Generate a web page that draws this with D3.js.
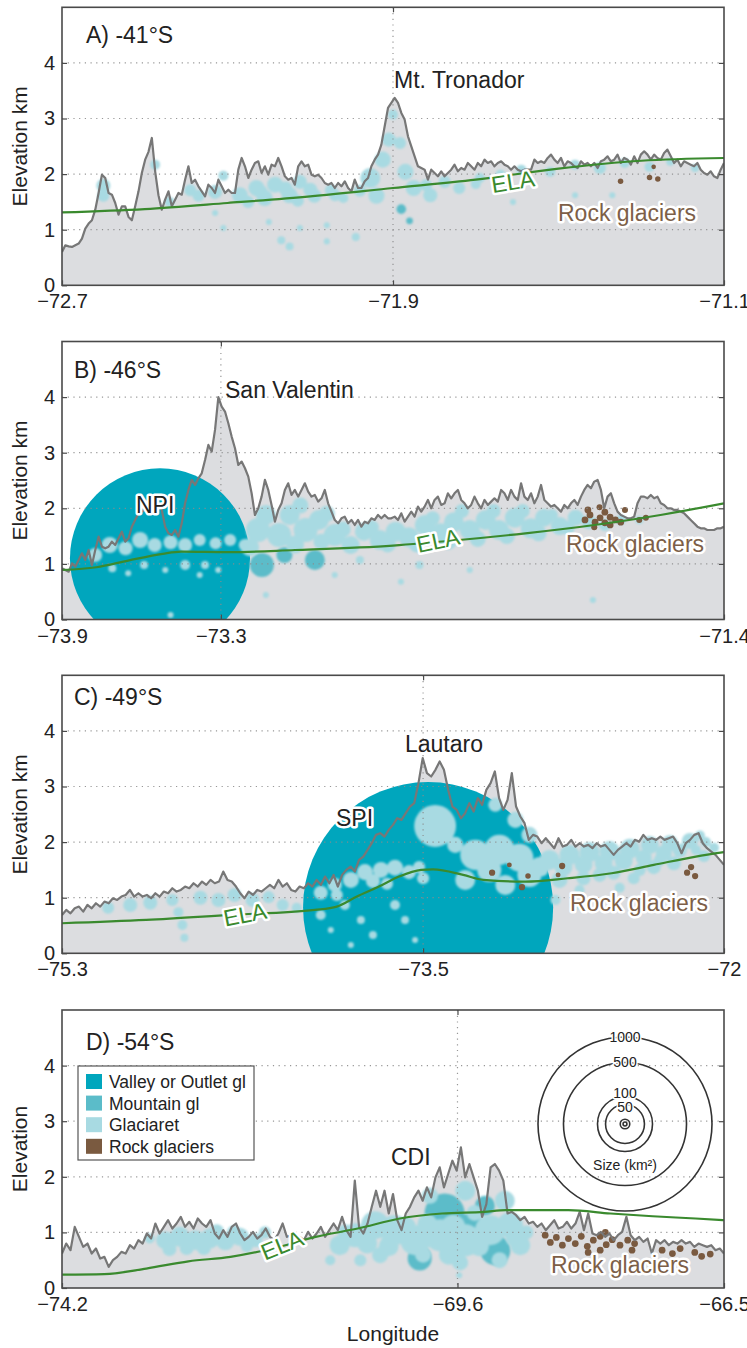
<!DOCTYPE html>
<html><head><meta charset="utf-8">
<script src="https://cdn.jsdelivr.net/npm/d3@7"></script>
<style>
body{margin:0;background:#fff;}
svg text{font-family:"Liberation Sans",Arial,Helvetica,sans-serif;}
</style></head><body>
<svg id="chart" width="747" height="1348"></svg>
<script>
// ---------------- data ----------------
// Topographic transects: elevation (km) sampled at a fixed longitude step across each range
const lonRangeA = [-72.7, -71.1];
const lonRangeB = [-73.9, -71.4];
const lonRangeC = [-75.3, -72.0];
const lonRangeD = [-74.2, -66.5];

const xTicksA = [-72.7, -71.9, -71.1], xLabelsA = ["\u221272.7", "\u221271.9", "\u221271.1"];
const xTicksB = [-73.9, -73.3, -71.4], xLabelsB = ["\u221273.9", "\u221273.3", "\u221271.4"];
const xTicksC = [-75.3, -73.5, -72.0], xLabelsC = ["\u221275.3", "\u221273.5", "\u221272"];
const xTicksD = [-74.2, -69.6, -66.5], xLabelsD = ["\u221274.2", "\u221269.6", "\u221266.5"];
const yTicks = [0, 1, 2, 3, 4];

const profileA = [
0.60,0.72,0.70,0.69,0.72,0.75,0.84,1.02,1.11,1.17,1.36,1.66,1.99,1.93,1.66,1.63,1.48,1.27,1.42,1.42,
1.23,1.17,1.42,1.69,2.02,2.26,2.40,2.65,2.05,1.62,1.36,1.54,1.69,1.42,1.54,1.66,1.63,1.90,2.14,1.84,
1.90,1.78,1.69,1.60,1.81,1.75,1.66,1.90,1.78,1.66,1.72,1.66,1.66,2.08,2.29,2.14,1.93,2.08,2.20,2.23,
2.02,2.14,1.99,2.17,2.14,2.29,2.14,1.96,1.90,1.93,1.81,2.14,2.23,2.14,2.17,1.99,1.96,1.99,1.93,1.84,
1.81,1.84,1.75,1.84,1.78,1.87,1.75,1.69,1.90,1.75,1.75,1.87,1.93,2.14,2.26,2.35,2.53,2.86,3.19,3.28,
3.37,3.28,3.10,2.98,2.68,2.50,2.32,2.14,2.11,2.08,1.90,2.08,2.02,1.96,2.05,1.96,2.02,2.08,2.17,2.05,
2.11,2.08,2.20,2.14,2.08,2.20,2.14,2.26,2.20,2.23,2.14,2.20,2.23,2.17,2.14,2.08,2.14,2.08,2.05,2.08,
2.08,2.08,2.26,2.20,2.23,2.20,2.29,2.35,2.26,2.20,2.29,2.14,2.23,2.20,2.14,2.11,2.23,2.17,2.20,2.14,
2.20,2.11,2.23,2.26,2.32,2.23,2.26,2.35,2.20,2.29,2.26,2.17,2.32,2.20,2.35,2.41,2.35,2.26,2.35,2.29,
2.26,2.38,2.44,2.32,2.20,2.26,2.14,2.23,2.20,2.17,2.14,2.20,2.08,2.02,1.99,2.05,1.96,1.93,2.08,2.20];

const profileB = [
0.92,0.89,0.86,1.01,0.95,1.07,1.19,1.07,1.25,0.98,1.25,1.49,1.31,1.28,1.31,1.40,1.34,1.46,1.58,1.40,
1.46,1.67,1.79,1.91,1.94,1.97,2.00,2.09,2.09,2.06,1.97,1.67,1.55,1.52,1.61,1.49,1.73,2.09,2.33,2.51,
2.42,2.54,2.63,2.87,3.14,3.02,3.41,4.00,3.83,3.74,3.53,3.29,3.08,2.78,2.84,2.72,2.57,2.27,1.88,2.00,
2.21,2.51,2.33,2.06,1.76,1.97,2.09,2.33,2.45,2.24,2.33,2.21,2.33,2.45,2.30,2.21,2.24,2.12,2.18,2.33,
2.09,1.94,1.79,1.73,1.82,1.85,1.73,1.79,1.70,1.79,1.67,1.76,1.73,1.82,1.79,1.88,1.82,1.88,1.82,1.82,
1.85,1.79,1.91,1.76,1.85,1.94,1.85,2.03,1.94,2.03,2.15,2.00,2.15,2.21,2.06,2.09,2.27,2.18,2.27,2.33,
2.15,2.09,2.00,2.06,2.21,2.09,2.00,2.15,2.06,2.12,2.18,2.12,2.33,2.27,2.15,2.33,2.21,2.15,2.45,2.21,
2.15,2.27,2.09,2.21,2.42,2.15,2.09,2.03,2.06,2.00,1.94,2.06,2.00,2.09,2.15,2.06,2.21,2.33,2.42,2.36,
2.48,2.51,2.33,2.00,2.21,2.27,2.09,1.94,1.88,1.85,1.82,1.82,1.85,2.09,2.21,2.21,2.18,2.24,2.18,2.21,
2.09,2.06,2.00,2.00,1.97,1.97,1.94,1.91,1.85,1.79,1.73,1.67,1.64,1.64,1.61,1.61,1.61,1.64,1.64,1.67];

const profileC = [
0.69,0.78,0.72,0.81,0.84,0.75,0.87,0.81,0.90,0.84,0.93,0.90,0.99,0.96,1.02,1.05,1.14,1.02,1.08,1.02,
1.05,0.99,1.08,1.02,1.11,1.08,1.17,1.11,1.14,1.20,1.17,1.26,1.20,1.29,1.23,1.32,1.26,1.29,1.47,1.32,
1.29,1.20,1.08,0.99,1.11,1.05,1.14,1.11,1.17,1.23,1.17,1.32,1.20,1.26,1.14,1.11,1.20,1.17,1.26,1.20,
1.32,1.23,1.38,1.26,1.41,1.20,1.41,1.50,1.56,1.47,1.68,1.74,1.86,1.98,2.13,2.16,2.10,2.22,2.31,2.43,
2.40,2.52,2.64,2.70,3.06,3.51,3.24,3.18,3.30,3.45,3.30,2.94,2.64,2.58,2.43,2.52,2.70,2.55,2.79,2.67,
2.94,3.06,3.27,2.79,2.58,2.76,3.24,2.64,2.46,2.34,2.04,2.13,2.10,1.98,2.07,1.98,1.89,2.07,1.92,1.95,
2.04,1.92,1.98,1.92,1.95,1.89,1.98,1.92,1.95,1.86,1.77,1.86,1.92,1.98,1.92,2.04,2.01,2.13,2.04,2.07,
2.04,2.10,2.04,2.07,2.10,1.98,1.80,1.98,2.04,2.13,2.16,1.98,1.89,1.83,1.77,1.68,1.59];

const profileD = [
0.62,0.80,0.68,1.10,0.92,0.74,0.80,0.62,0.71,0.53,0.56,0.38,0.50,0.56,0.65,0.62,0.77,0.71,0.86,0.80,
0.98,0.89,1.16,0.98,1.10,1.22,1.07,1.16,1.28,1.10,1.19,1.07,1.25,1.16,1.10,1.22,0.98,0.89,1.04,0.92,
1.10,1.16,0.98,0.86,0.92,1.01,0.89,0.95,1.07,0.92,0.86,0.98,1.16,0.92,0.95,0.83,0.92,0.86,1.01,0.89,
0.98,1.10,0.92,1.04,1.16,1.04,1.28,1.04,0.92,1.93,1.10,0.98,1.16,1.46,1.75,1.46,1.75,1.34,1.69,1.22,
1.04,1.34,1.46,1.63,1.75,1.57,1.81,1.63,1.99,2.17,1.81,2.05,2.29,2.11,2.53,1.99,2.23,1.99,1.75,1.28,
1.51,2.17,2.23,2.11,1.93,1.34,1.37,1.31,1.22,1.28,1.16,1.19,1.10,1.16,1.04,1.13,1.22,1.07,1.10,1.19,
1.07,1.16,1.37,1.04,1.34,0.98,0.95,1.01,0.92,0.98,0.86,0.95,1.01,1.28,0.95,0.86,0.92,0.83,0.89,0.62,
0.86,0.80,0.86,0.77,0.83,0.80,0.86,0.80,0.83,0.74,0.80,0.77,0.74,0.77,0.68,0.71,0.62];

// Equilibrium-line altitude (km) along each transect
const elaLonA = [-72.7,-72.5,-72.3,-72.1,-71.9,-71.7,-71.5,-71.3,-71.1];
const elaA    = [1.31,1.37,1.48,1.60,1.75,1.90,2.10,2.24,2.29];
const elaLonB = [-73.9,-73.77,-73.65,-73.52,-73.45,-73.27,-73.02,-72.65,-72.4,-72.15,-71.89,-71.64,-71.4];
const elaB    = [0.89,0.94,1.06,1.18,1.22,1.21,1.25,1.33,1.43,1.55,1.70,1.88,2.09];
const elaLonC = [-75.3,-74.88,-74.46,-74.04,-73.93,-73.83,-73.72,-73.62,-73.51,-73.45,-73.30,-73.20,-72.99,-72.78,-72.56,-72.35,-72.14,-72.0];
const elaC    = [0.54,0.60,0.69,0.78,0.84,1.02,1.20,1.38,1.50,1.51,1.41,1.32,1.29,1.35,1.44,1.59,1.74,1.82];
const elaLonD = [-74.2,-73.71,-73.22,-72.73,-72.24,-71.75,-71.25,-70.76,-70.27,-69.78,-69.29,-69.04,-68.8,-68.31,-67.82,-67.33,-66.83,-66.5];
const elaD    = [0.24,0.25,0.35,0.48,0.56,0.71,0.92,1.07,1.25,1.34,1.37,1.40,1.40,1.40,1.34,1.29,1.25,1.22];

// Glaciers: [longitude, mean elevation (km), area (km²)]
const valleyA = [];
const mountainA = [[-71.88,1.37,3.0],[-71.86,1.16,1.5]];
const glaciaretA = [[-72.60,1.79,6.5],[-72.60,1.61,4.8],[-72.475,2.17,3.3],[-72.39,1.71,4.8],[-72.37,1.61,4.8],[-72.33,1.68,6.5],[-72.31,1.97,3.3],[-72.27,1.62,8.5],[-72.23,1.75,8.5],[-72.21,1.57,8.5],[-72.185,1.81,8.5],[-72.15,1.62,8.5],[-72.125,1.86,6.5],[-72.09,1.61,6.5],[-72.05,1.71,4.8],[-72.02,1.57,3.3],[-71.955,1.93,13.2],[-71.925,2.26,8.5],[-71.91,2.62,6.5],[-71.90,3.07,3.3],[-71.94,1.61,8.5],[-71.883,2.56,4.8],[-71.87,2.04,8.5],[-71.85,1.75,8.5],[-71.81,1.62,6.5],[-71.775,1.86,4.8],[-71.74,1.75,4.8],[-71.69,1.93,3.3],[-71.64,1.99,3.3],[-71.59,2.08,3.3],[-71.52,2.04,3.3],[-71.46,2.17,3.3],[-71.40,2.11,4.8],[-71.34,2.20,3.3],[-71.28,2.13,3.3],[-71.23,2.22,2.1],[-71.17,2.11,2.1],
[-72.22,1.68,6.5],[-72.16,1.74,6.5],[-72.10,1.72,6.5],[-72.04,1.62,4.8],[-71.98,1.70,4.8],[-72.25,1.50,4.8],[-72.13,1.52,4.8],[-71.82,1.80,4.8],[-71.70,1.82,3.3],[-72.44,1.50,3.3],
[-72.33,1.30,1.2],[-72.31,1.03,1.2],[-72.20,1.14,1.2],[-72.17,0.81,2.1],[-72.15,0.70,2.1],[-72.125,1.03,1.2],[-72.06,1.08,1.2],[-72.06,0.79,1.2],[-71.99,0.87,2.1],[-71.61,1.50,1.2],[-71.46,1.62,1.2],[-71.37,1.62,1.2]];
const rockA = [[-71.35,1.87,1.0],[-71.28,1.94,1.0],[-71.26,1.91,1.0],[-71.27,2.13,0.7]];

const valleyB = [[-73.53,1.10,1071]];
const mountainB = [[-73.145,0.98,19],[-72.945,1.07,13.2],[-73.06,1.16,8.5]];
const glaciaretB = [[-73.775,1.16,6.5],[-73.72,1.34,8.5],[-73.66,1.28,6.5],[-73.605,1.43,8.5],[-73.55,1.34,6.5],[-73.49,1.39,6.5],[-73.435,1.34,6.5],[-73.38,1.43,4.8],[-73.32,1.37,4.8],[-73.265,1.43,4.8],[-73.21,1.34,4.8],
[-73.71,0.92,2.1],[-73.65,0.83,1.2],[-73.59,0.98,2.1],[-73.51,0.89,1.2],[-73.435,0.98,3.3],[-73.38,0.80,1.2],[-73.36,0.98,2.1],[-73.31,0.89,1.2],[-73.49,0.08,1.2],
[-73.16,1.61,19],[-73.13,1.88,13.2],[-73.08,1.52,19],[-73.04,1.88,13.2],[-72.98,1.61,19],[-72.93,1.79,13.2],[-72.87,1.52,16],[-72.81,1.34,10.7],[-72.76,1.58,10.7],[-72.70,1.43,13.2],[-72.64,1.58,13.2],[-72.59,1.48,13.2],[-72.53,1.70,13.2],[-72.47,1.55,13.2],[-72.42,1.75,13.2],[-72.36,1.61,13.2],[-72.30,1.79,13.2],[-72.25,1.61,13.2],[-72.19,1.83,13.2],[-72.13,1.64,13.2],[-72.08,1.83,10.7],[-72.02,1.68,10.7],[-71.96,1.83,8.5],[-71.91,1.75,6.5],[-71.85,1.70,4.8],[-71.79,1.79,3.3],[-71.72,1.79,2.1],
[-73.0,2.05,8.5],[-72.90,1.90,8.5],[-72.84,1.62,8.5],[-72.73,1.66,6.5],[-72.67,1.35,8.5],[-72.56,1.35,8.5],[-72.50,1.82,6.5],[-72.44,1.40,8.5],[-72.39,1.95,6.5],[-72.33,1.45,8.5],[-72.27,1.95,6.5],[-72.22,1.50,8.5],[-72.16,1.95,6.5],[-72.10,1.55,8.5],[-72.05,1.88,4.8],[-71.99,1.65,6.5],[-73.19,1.30,10.7],[-73.02,1.35,10.7],[-72.92,1.40,8.5],
[-72.775,1.07,2.1],[-72.55,0.98,2.1],[-72.36,0.89,1.2],[-72.87,0.80,1.2],[-72.62,0.68,1.2],[-73.13,0.44,1.2],[-71.895,0.35,1.2]];
const rockB = [[-71.925,1.79,1.5],[-71.906,1.88,1.5],[-71.887,1.75,1.5],[-71.868,1.83,1.5],[-71.85,1.74,1.5],[-71.83,1.84,1.5],[-71.81,1.79,1.5],[-71.79,1.75,1.5],[-71.914,1.97,1.5],[-71.774,1.97,1.2],[-71.72,1.79,1.2],[-71.83,1.70,1.5],[-71.87,2.02,1.2],[-71.695,1.83,1.2],[-71.89,1.66,1.2],[-71.85,1.93,1.5]];

const valleyC = [[-73.475,0.83,2066]];
const mountainC = [];
const glaciaretC = [[-75.07,0.82,4.8],[-74.96,0.87,6.5],[-74.86,0.91,6.5],[-74.75,0.96,4.8],[-74.72,0.74,3.3],[-74.70,0.51,3.3],[-74.69,0.28,2.1],[-74.61,1.00,6.5],[-74.52,0.96,6.5],[-74.44,1.05,6.5],[-74.35,0.96,6.5],[-74.27,1.01,4.8],[-74.20,0.87,4.8],[-74.13,0.82,3.3],
[-74.01,1.09,6.5],[-73.94,1.23,6.5],[-73.86,1.32,8.5],[-73.79,1.46,8.5],[-73.71,1.50,8.5],[-73.64,1.54,8.5],[-73.57,1.46,6.5],[-74.01,0.69,3.3],[-73.89,0.87,3.3],[-73.81,0.60,2.1],[-73.75,0.33,2.1],[-73.64,0.87,3.3],[-73.59,0.60,2.1],[-73.54,0.24,1.2],[-73.86,0.15,1.2],[-73.96,0.42,1.2],
[-73.93,1.05,4.8],[-73.75,1.30,6.5],[-73.68,1.25,4.8],[-73.52,1.55,4.8],[-73.50,1.35,4.8],
[-73.44,2.29,58],[-73.34,1.95,8.5],[-73.24,1.77,29.8],[-73.12,1.86,29.8],[-73.02,1.72,25.9],[-73.17,1.50,19],[-72.97,1.41,19],[-73.29,1.32,13.2],[-73.09,1.23,13.2],[-73.14,2.67,6.5],[-73.04,2.40,8.5],[-72.97,2.13,8.5],
[-72.87,1.68,13.2],[-72.77,1.77,13.2],[-72.67,1.82,13.2],[-72.57,1.84,13.2],[-72.47,1.88,13.2],[-72.37,1.95,10.7],[-72.27,1.98,8.5],[-72.17,2.02,8.5],[-72.12,2.12,3.3],[-72.82,1.32,8.5],[-72.62,1.41,6.5],[-72.42,1.50,4.8],[-72.72,1.14,3.3],[-72.52,1.18,3.3],[-72.32,1.68,4.8],[-72.14,1.86,3.3],[-72.09,2.00,3.3],[-72.84,0.96,3.3],[-72.74,0.87,3.3],
[-72.92,1.55,13.2],[-72.80,1.55,10.7],[-72.70,1.60,10.7],[-72.60,1.62,10.7],[-72.50,1.66,10.7],[-72.40,1.72,8.5],[-72.30,1.80,8.5],[-72.22,1.85,6.5],[-72.70,1.35,6.5],[-72.55,1.45,6.5],[-72.45,1.35,4.8],[-72.35,1.55,6.5],[-72.25,1.62,6.5],[-72.10,1.75,4.8],[-72.05,1.90,3.3]];
const rockC = [[-73.156,1.45,1.3],[-73.07,1.59,0.8],[-73.007,1.19,1.3],[-72.977,1.39,1.0],[-72.807,1.57,1.3],[-72.827,1.41,0.8],[-72.164,1.55,1.3],[-72.184,1.45,1.3],[-72.144,1.39,1.3]];

const valleyD = [];
const mountainD = [[-69.75,1.34,52.9],[-70.04,0.53,19],[-69.16,0.68,29.8],[-69.45,1.13,19],[-69.28,1.48,13.2]];
const glaciaretD = [[-73.18,0.89,3.3],[-73.00,0.86,10.7],[-72.83,0.92,13.2],[-72.65,0.86,13.2],[-72.48,0.89,13.2],[-72.30,0.84,10.7],[-72.13,0.92,10.7],[-71.95,0.86,6.5],[-71.84,1.00,4.8],
[-72.95,0.70,6.5],[-72.75,0.72,6.5],[-72.55,0.72,6.5],[-72.40,1.02,6.5],[-72.20,1.00,6.5],[-72.05,0.75,4.8],
[-70.97,0.77,13.2],[-70.79,0.95,19],[-70.56,1.13,25.9],[-70.33,1.04,29.8],[-70.09,0.86,29.8],[-69.80,0.95,33.9],[-69.51,0.86,33.9],[-69.22,1.04,29.8],[-68.99,1.13,22.3],[-68.87,0.77,13.2],[-70.50,0.59,8.5],[-70.73,0.50,4.8],[-71.08,0.50,3.3],[-69.57,0.46,8.5],[-69.11,0.50,8.5],[-69.51,1.75,13.2],[-69.05,1.57,13.2],[-69.92,1.66,8.5],[-69.58,0.23,1.2],[-69.58,0.41,1.2],
[-70.90,1.00,8.5],[-70.65,0.80,13.2],[-70.40,0.75,13.2],[-70.20,1.10,13.2],[-69.95,1.15,13.2],[-69.65,1.10,19],[-69.35,0.75,13.2],[-68.95,0.90,8.5],[-68.80,1.00,6.5],[-70.00,0.60,8.5],[-69.70,0.60,13.2],[-69.40,1.35,8.5]];
const rockD = [[-68.58,0.95,1.5],[-68.52,0.82,1.5],[-68.45,0.91,1.5],[-68.38,0.77,1.5],[-68.31,0.89,1.5],[-68.23,0.80,1.5],[-68.16,0.93,1.5],[-68.09,0.75,1.5],[-68.02,0.86,1.5],[-67.94,0.93,1.5],[-67.87,0.78,1.5],[-67.80,0.87,1.5],[-67.71,0.77,1.5],[-67.62,0.86,1.5],[-67.54,0.80,1.5],[-68.08,0.64,1.5],[-67.94,0.68,1.5],[-67.57,0.68,1.5],[-67.22,0.68,1.5],[-67.10,0.62,1.5],[-67.01,0.71,1.5],[-66.84,0.64,1.5],[-66.76,0.57,1.5],[-66.66,0.61,1.5],[-67.88,1.00,1.5]];

const legendTypes = ["Valley or Outlet gl", "Mountain gl", "Glaciaret", "Rock glaciers"];
const sizeLegendAreas = [1000, 500, 100, 50, 3, 0.5];
const sizeLegendLabels = ["1000", "500", "100", "50"];

// ---------------- drawing ----------------
const colors = {
  terrain: "#dcdde0", profile: "#777777", ela: "#3a8a2e",
  valley: "#00a6bd", mountain: "#5bbcc9", glaciaret: "#a8dae2", rock: "#7a5a40",
  rockText: "#7d5f48", frame: "#4a4a4a", grid: "#8c8c8c", text: "#222"
};
const plotLeft = 62, plotRight = 724, plotH = 278;
const rScale = d3.scaleSqrt().domain([0, 1000]).range([0, 87]);
const svg = d3.select("#chart");
const defs = svg.append("defs");
defs.append("filter").attr("id", "soft").attr("x", "-20%").attr("y", "-20%")
  .attr("width", "140%").attr("height", "140%")
  .append("feGaussianBlur").attr("stdDeviation", 1.3);

const panels = [
  { key: "A", top: 7.3, lon: lonRangeA, xTicks: xTicksA, xLabels: xLabelsA, profile: profileA,
    elaLon: elaLonA, ela: elaA, valley: valleyA, mountain: mountainA, glaciaret: glaciaretA, rock: rockA,
    yTitle: "Elevation km", title: "A) -41\u00b0S", titleX: 86, titleY: 36,
    peaks: [{ text: "Mt. Tronador", x: 394, y: 81, halo: false }],
    elaLabel: { x: 513, y: 174, rot: -9 }, rockLabel: { x: 558, y: 214 } },
  { key: "B", top: 341.5, lon: lonRangeB, xTicks: xTicksB, xLabels: xLabelsB, profile: profileB,
    elaLon: elaLonB, ela: elaB, valley: valleyB, mountain: mountainB, glaciaret: glaciaretB, rock: rockB,
    yTitle: "Elevation km", title: "B) -46\u00b0S", titleX: 74, titleY: 36.5,
    peaks: [{ text: "San Valentin", x: 225, y: 56, halo: false }, { text: "NPI", x: 136, y: 171, halo: true }],
    elaLabel: { x: 438, y: 199, rot: -12 }, rockLabel: { x: 566, y: 210 } },
  { key: "C", top: 675.3, lon: lonRangeC, xTicks: xTicksC, xLabels: xLabelsC, profile: profileC,
    elaLon: elaLonC, ela: elaC, valley: valleyC, mountain: mountainC, glaciaret: glaciaretC, rock: rockC,
    yTitle: "Elevation km", title: "C) -49\u00b0S", titleX: 74, titleY: 30,
    peaks: [{ text: "Lautaro", x: 405, y: 77, halo: false }, { text: "SPI", x: 336, y: 151, halo: true }],
    elaLabel: { x: 245, y: 239, rot: -11 }, rockLabel: { x: 570, y: 236 } },
  { key: "D", top: 1010, lon: lonRangeD, xTicks: xTicksD, xLabels: xLabelsD, profile: profileD,
    elaLon: elaLonD, ela: elaD, valley: valleyD, mountain: mountainD, glaciaret: glaciaretD, rock: rockD,
    yTitle: "Elevation", title: "D) -54\u00b0S", titleX: 86, titleY: 40,
    peaks: [{ text: "CDI", x: 391, y: 155, halo: false }],
    elaLabel: { x: 282, y: 235, rot: -22 }, rockLabel: { x: 551, y: 263 },
    legend: true, sizeLegend: true }
];

panels.forEach(p => {
  const g = svg.append("g").attr("class", "panel-" + p.key);
  const bottom = p.top + plotH;
  const x = d3.scaleLinear().domain(p.lon).range([plotLeft, plotRight]);
  const y = d3.scaleLinear().domain([0, 5]).range([bottom, p.top]);
  const sampleLon = d3.scaleLinear().domain([0, p.profile.length - 1]).range(p.lon);

  const clipId = "clip-" + p.key;
  defs.append("clipPath").attr("id", clipId)
    .append("rect").attr("x", plotLeft).attr("y", p.top)
    .attr("width", plotRight - plotLeft).attr("height", plotH);

  const plot = g.append("g").attr("clip-path", `url(#${clipId})`);
  plot.append("rect").attr("x", plotLeft).attr("y", p.top)
    .attr("width", plotRight - plotLeft).attr("height", plotH).attr("fill", "#fff");

  // terrain silhouette
  plot.append("path").datum(p.profile)
    .attr("fill", colors.terrain)
    .attr("d", d3.area().x((d, i) => x(sampleLon(i))).y0(y(0)).y1(d => y(d)));

  // glacier bubbles, largest classes first
  const bubbles = (list, color, soft) => {
    const layer = plot.append("g");
    if (soft) layer.attr("filter", "url(#soft)");
    layer.selectAll("circle").data(list).join("circle")
      .attr("cx", d => x(d[0])).attr("cy", d => y(d[1])).attr("r", d => rScale(d[2]))
      .attr("fill", color);
  };
  bubbles(p.valley, colors.valley, false);
  bubbles(p.mountain, colors.mountain, true);
  bubbles(p.glaciaret, colors.glaciaret, true);
  bubbles(p.rock, colors.rock, false);

  // dotted grid
  const grid = plot.append("g").attr("stroke", colors.grid).attr("stroke-width", 1.2)
    .attr("stroke-dasharray", "1.2,4.5").attr("opacity", 0.9);
  grid.selectAll("line.h").data(yTicks.filter(v => v > 0)).join("line")
    .attr("x1", plotLeft).attr("x2", plotRight).attr("y1", d => y(d)).attr("y2", d => y(d));
  grid.selectAll("line.v").data(p.xTicks.slice(1, -1)).join("line")
    .attr("y1", p.top).attr("y2", bottom).attr("x1", d => x(d)).attr("x2", d => x(d));

  // ridge profile line
  plot.append("path").datum(p.profile)
    .attr("fill", "none").attr("stroke", colors.profile).attr("stroke-width", 2.2)
    .attr("stroke-linejoin", "round")
    .attr("d", d3.line().x((d, i) => x(sampleLon(i))).y(d => y(d)));

  // ELA line
  const elaPts = p.elaLon.map((lon, i) => [lon, p.ela[i]]);
  plot.append("path").datum(elaPts)
    .attr("fill", "none").attr("stroke", colors.ela).attr("stroke-width", 2.2)
    .attr("d", d3.line().curve(d3.curveMonotoneX).x(d => x(d[0])).y(d => y(d[1])));

  // frame and axes
  g.append("rect").attr("x", plotLeft).attr("y", p.top)
    .attr("width", plotRight - plotLeft).attr("height", plotH)
    .attr("fill", "none").attr("stroke", colors.frame).attr("stroke-width", 1.6);

  const styleAxis = sel => {
    sel.select(".domain").remove();
    sel.selectAll(".tick line").attr("stroke", colors.frame).attr("stroke-width", 1.2);
    sel.selectAll("text").attr("fill", colors.text)
      .attr("font-family", '"Liberation Sans", Arial, sans-serif').attr("font-size", 20);
  };
  g.append("g").attr("transform", `translate(${plotLeft},0)`)
    .call(d3.axisLeft(y).tickValues(yTicks).tickSize(-5).tickPadding(7).tickFormat(d3.format("d")))
    .call(styleAxis);
  g.append("g").attr("transform", `translate(${plotRight},0)`)
    .call(d3.axisRight(y).tickValues(yTicks.slice(1)).tickSize(-5).tickFormat(""))
    .call(styleAxis);
  g.append("g").attr("transform", `translate(0,${bottom})`)
    .call(d3.axisBottom(x).tickValues(p.xTicks).tickSize(-5).tickPadding(9)
      .tickFormat((d, i) => p.xLabels[i]))
    .call(styleAxis);
  g.append("g").attr("transform", `translate(0,${p.top})`)
    .call(d3.axisTop(x).tickValues(p.xTicks.slice(1, -1)).tickSize(-5).tickFormat(""))
    .call(styleAxis);

  // y title
  g.append("text").attr("transform", `translate(27,${p.top + plotH / 2}) rotate(-90)`)
    .attr("text-anchor", "middle").attr("font-size", 21).attr("fill", colors.text)
    .text(p.yTitle);

  // annotations
  const halo = (sel, w = 5) => sel.attr("stroke", "#fff").attr("stroke-width", w)
    .attr("stroke-linejoin", "round").attr("paint-order", "stroke");
  g.append("text").attr("x", p.titleX).attr("y", p.top + p.titleY)
    .attr("font-size", 23).attr("fill", colors.text).text(p.title);
  p.peaks.forEach(pk => {
    const t = g.append("text").attr("x", pk.x).attr("y", p.top + pk.y)
      .attr("font-size", 23).attr("fill", colors.text).text(pk.text);
    if (pk.halo) t.call(halo);
  });
  g.append("text")
    .attr("transform", `translate(${p.elaLabel.x},${p.top + p.elaLabel.y}) rotate(${p.elaLabel.rot})`)
    .attr("text-anchor", "middle").attr("dy", "0.36em")
    .attr("font-size", 23).attr("fill", colors.ela).text("ELA").call(halo);
  g.append("text").attr("x", p.rockLabel.x).attr("y", p.top + p.rockLabel.y)
    .attr("font-size", 23).attr("fill", colors.rockText).text("Rock glaciers").call(halo);

  // type legend
  if (p.legend) {
    const lg = g.append("g").attr("transform", `translate(78,${p.top + 56})`);
    lg.append("rect").attr("width", 176).attr("height", 94)
      .attr("fill", "#fff").attr("stroke", "#555").attr("stroke-width", 1.2);
    const swatch = [colors.valley, colors.mountain, colors.glaciaret, colors.rock];
    legendTypes.forEach((name, i) => {
      const ry = 16 + i * 21.6;
      lg.append("rect").attr("x", 8).attr("y", ry - 8).attr("width", 16).attr("height", 15)
        .attr("fill", swatch[i]);
      lg.append("text").attr("x", 31).attr("y", ry).attr("dy", "0.35em")
        .attr("font-size", 17.5).attr("fill", colors.text).text(name);
    });
  }

  // bubble size legend
  if (p.sizeLegend) {
    const cx = 625, cy = p.top + 114;
    const labelShift = [0, 0, -3.5, 2.5];
    const sl = g.append("g");
    sl.selectAll("circle").data(sizeLegendAreas).join("circle")
      .attr("cx", cx).attr("cy", cy).attr("r", d => rScale(d))
      .attr("fill", "none").attr("stroke", "#333").attr("stroke-width", 1.6);
    sl.selectAll("text.lab").data(sizeLegendLabels).join("text")
      .attr("x", cx).attr("y", (d, i) => cy - rScale(sizeLegendAreas[i]) + labelShift[i])
      .attr("dy", "0.35em").attr("text-anchor", "middle")
      .attr("font-size", 14).attr("fill", colors.text).text(d => d)
      .call(halo, 3);
    sl.append("text").attr("x", cx).attr("y", cy + 41).attr("dy", "0.35em")
      .attr("text-anchor", "middle").attr("font-size", 14).attr("fill", colors.text)
      .text("Size (km\u00b2)");
  }
});

// shared x title
svg.append("text").attr("x", 393).attr("y", 1341).attr("text-anchor", "middle")
  .attr("font-size", 21).attr("fill", colors.text).text("Longitude");
</script>
</body></html>
